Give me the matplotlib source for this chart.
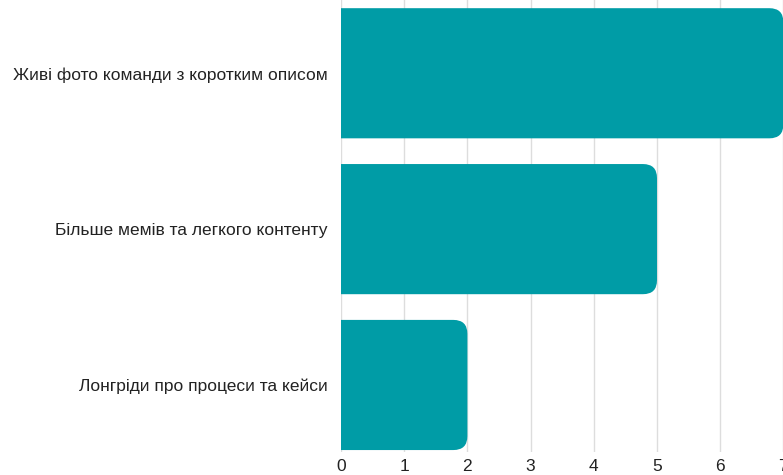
import matplotlib
matplotlib.use('Agg')
import matplotlib.pyplot as plt
from matplotlib.patches import FancyBboxPatch

plt.rcParams['font.family'] = ['Liberation Sans', 'DejaVu Sans']

categories = ['Живі фото команди з коротким описом',
              'Більше мемів та легкого контенту',
              'Лонгріди про процеси та кейси']
values = [7, 5, 2]
xticks = [0, 1, 2, 3, 4, 5, 6, 7]

bar_color = '#009ca6'
px_x = 63.2   # pixels per x unit
px_y = 156.0  # pixels per category
radius_px = 14

fig = plt.figure(figsize=(7.83, 4.75), dpi=100)
ax = fig.add_axes([341 / 783, 1 - 452 / 475, 442.4 / 783, 452 / 475])

bars = ax.barh(range(len(categories)), values, height=0.835, color=bar_color)
rx = radius_px / px_x
aspect = (radius_px / px_y) / rx
for b in bars:
    x0, y0 = b.get_x(), b.get_y()
    w, h = b.get_width(), b.get_height()
    b.set_visible(False)
    # extend left past zero so only the right corners look rounded
    patch = FancyBboxPatch((x0 - 1, y0), w + 1, h,
                           boxstyle='round,pad=0,rounding_size=%g' % rx,
                           mutation_aspect=aspect,
                           facecolor=bar_color, edgecolor='none', zorder=2)
    ax.add_patch(patch)

ax.set_xlim(0, 7)
ax.set_ylim(2.43, -0.47)
ax.set_xticks(xticks)
ax.set_yticks(range(len(categories)))
ax.set_yticklabels(categories)
ax.grid(axis='x', color='#dddddd', linewidth=1, zorder=0)
ax.set_axisbelow(True)
for s in ax.spines.values():
    s.set_visible(False)
ax.tick_params(axis='both', length=0, colors='#222222', labelsize=12.5)
ax.tick_params(axis='y', pad=9.4)
ax.tick_params(axis='x', pad=5)

fig.savefig('out.png', dpi=100)
